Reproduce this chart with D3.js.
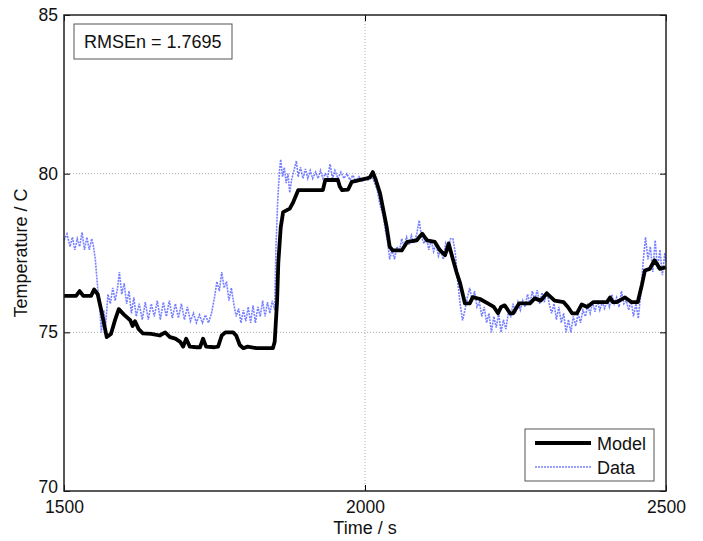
<!DOCTYPE html>
<html>
<head>
<meta charset="utf-8">
<script src="https://cdn.jsdelivr.net/npm/d3@7"></script>
<style>
  body { margin: 0; background: #fff; }
  text { font-family: Arial, "Liberation Sans", sans-serif; fill: #111; }
</style>
</head>
<body>
<div id="chart"></div>
<script>
// Model (black) trace
const modelTime = [1500, 1520, 1526, 1532, 1545, 1550, 1556, 1563, 1571, 1578, 1585, 1591, 1600, 1610, 1614, 1618,
  1624, 1631, 1645, 1659, 1668, 1676, 1685, 1693, 1698, 1703, 1709, 1720, 1726, 1731, 1736, 1750, 1756, 1762, 1768,
  1781, 1786, 1792, 1798, 1805, 1820, 1847, 1850, 1854, 1856, 1860, 1864, 1875, 1880, 1889, 1930, 1934, 1955, 1958,
  1962, 1972, 1978, 2003, 2008, 2013, 2018, 2025, 2036, 2041, 2046, 2061, 2070, 2086, 2095, 2103, 2116, 2124, 2133,
  2139, 2146, 2152, 2158, 2166, 2174, 2179, 2191, 2204, 2214, 2221, 2226, 2232, 2241, 2246, 2256, 2274, 2282, 2292,
  2302, 2315, 2330, 2337, 2344, 2352, 2360, 2369, 2379, 2402, 2407, 2412, 2418, 2432, 2443, 2453, 2460, 2465, 2473,
  2481, 2490, 2500];
const modelTemp = [76.15, 76.15, 76.3, 76.15, 76.15, 76.35, 76.2, 75.6, 74.85, 74.95, 75.4, 75.73, 75.55, 75.38, 75.2, 75.35,
  75.1, 74.97, 74.95, 74.9, 75.0, 74.85, 74.8, 74.7, 74.55, 74.8, 74.55, 74.53, 74.53, 74.8, 74.55, 74.53, 74.55, 74.9, 75.0,
  75.0, 74.9, 74.6, 74.5, 74.55, 74.5, 74.5, 74.7, 76.0, 77.2, 78.3, 78.79, 78.9, 79.07, 79.48, 79.48, 79.8, 79.8, 79.6,
  79.48, 79.5, 79.74, 79.85, 79.88, 80.05, 79.8, 79.38, 78.32, 77.7, 77.58, 77.58, 77.85, 77.9, 78.11, 77.9, 77.85, 77.6, 77.43,
  77.8, 77.3, 76.9, 76.55, 75.91, 75.91, 76.11, 76.05, 75.91, 75.8, 75.6, 75.8, 75.85, 75.6, 75.6, 75.91, 75.91, 76.07, 76.0,
  76.23, 76.0, 75.95, 75.8, 75.6, 75.6, 75.88, 75.8, 75.95, 75.95, 76.1, 75.95, 75.95, 76.1, 75.95, 75.95, 76.5, 76.95, 77.0,
  77.27, 77.0, 77.05];

const dataTime = [1500, 1505, 1510, 1514, 1518, 1522, 1526, 1530, 1534, 1538, 1542, 1546, 1549, 1552, 1556, 1559, 1562,
  1566, 1569, 1573, 1577, 1581, 1585, 1589, 1592, 1596, 1600, 1604, 1608, 1612, 1616, 1620, 1625, 1630, 1635, 1640, 1645,
  1650, 1655, 1660, 1665, 1670, 1675, 1680, 1685, 1690, 1695, 1700, 1705, 1710, 1715, 1720, 1725, 1730, 1735, 1740, 1745,
  1750, 1754, 1758, 1762, 1766, 1770, 1774, 1778, 1782, 1786, 1790, 1794, 1798, 1802, 1806, 1810, 1814, 1818, 1822, 1826,
  1830, 1834, 1838, 1842, 1846, 1850, 1852, 1855, 1858, 1860, 1863, 1866, 1869, 1872, 1875, 1878, 1882, 1886, 1889, 1893,
  1897, 1901, 1905, 1909, 1913, 1918, 1922, 1926, 1930, 1934, 1938, 1942, 1946, 1950, 1955, 1960, 1965, 1970, 1975, 1980,
  1985, 1990, 1995, 2000, 2005, 2010, 2015, 2020, 2025, 2030, 2034, 2038, 2041, 2045, 2049, 2053, 2057, 2061, 2065, 2069,
  2073, 2077, 2081, 2086, 2090, 2094, 2098, 2102, 2106, 2110, 2114, 2118, 2122, 2126, 2130, 2134, 2138, 2142, 2146, 2150,
  2154, 2158, 2162, 2166, 2170, 2174, 2178, 2182, 2186, 2190, 2194, 2198, 2202, 2206, 2210, 2214, 2218, 2222, 2226, 2230,
  2234, 2238, 2242, 2246, 2250, 2254, 2258, 2262, 2266, 2270, 2274, 2278, 2282, 2286, 2290, 2294, 2298, 2302, 2306, 2310,
  2314, 2318, 2322, 2326, 2330, 2334, 2338, 2342, 2346, 2350, 2354, 2358, 2362, 2366, 2370, 2374, 2378, 2382, 2386, 2390,
  2394, 2398, 2402, 2406, 2410, 2414, 2418, 2422, 2426, 2430, 2434, 2438, 2442, 2446, 2450, 2454, 2458, 2462, 2466, 2470,
  2474, 2478, 2482, 2486, 2490, 2494, 2498, 2500];
const dataTemp = [77.9, 78.1, 77.7, 78.0, 77.6, 77.95, 77.7, 78.15, 77.6, 78.0, 77.6, 77.95, 77.7, 77.3, 76.4, 75.9, 75.0,
  75.7, 75.2, 76.2, 75.9, 76.4, 76.0, 76.4, 76.9, 76.2, 76.55, 75.9, 76.3, 75.6, 76.1, 75.5, 75.9, 75.4, 75.95, 75.4, 75.9,
  75.5, 76.0, 75.4, 75.95, 75.5, 76.0, 75.45, 75.9, 75.45, 75.9, 75.4, 75.8, 75.35, 75.6, 75.3, 75.55, 75.3, 75.55, 75.3, 75.6,
  76.1, 76.6, 76.3, 76.9, 76.4, 76.6, 76.0, 76.4, 75.9, 75.5, 75.75, 75.3, 75.7, 75.35, 75.8, 75.3, 75.85, 75.3, 75.8, 75.5,
  76.0, 75.5, 75.95, 75.6, 76.0, 75.7, 77.6, 79.16, 80.1, 80.45, 79.9, 80.2, 79.7, 80.0, 79.4, 79.8, 80.1, 80.4, 79.9, 80.2,
  79.85, 80.15, 79.85, 80.1, 79.85, 80.05, 79.85, 80.1, 79.85, 80.0, 79.9, 80.3, 79.85, 80.1, 79.85, 80.05, 79.85, 80.0, 79.8, 79.95,
  79.75, 79.9, 79.75, 79.9, 79.8, 79.95, 79.75, 79.5, 79.0, 78.7, 78.2, 77.8, 77.3, 77.6, 77.3, 77.7, 77.55, 77.95, 77.7, 78.0,
  77.75, 78.05, 77.8, 78.1, 78.53, 78.0, 77.8, 78.0, 77.6, 77.9, 77.55, 77.8, 77.4, 77.6, 77.3, 77.8, 77.6, 77.95, 77.95, 77.5,
  76.6, 75.9, 75.38, 75.7, 76.1, 76.4, 76.0, 76.3, 75.8, 75.95, 75.5, 75.8, 75.3, 75.6, 75.0, 75.5, 75.15, 75.6, 75.0, 75.4,
  75.1, 75.6, 75.5, 75.9, 75.6, 75.95, 75.7, 76.0, 75.8, 76.2, 75.9, 76.3, 76.0, 76.33, 75.9, 76.25, 75.95, 76.3, 75.9, 75.6,
  75.9, 75.4, 75.8, 75.3, 75.6, 75.0, 75.4, 75.0, 75.5, 75.2, 75.6, 75.3, 75.7, 75.5, 75.85, 75.6, 75.95, 75.65, 76.0, 75.7,
  75.95, 75.75, 76.0, 75.8, 76.2, 75.9, 76.1, 75.8, 76.3, 75.9, 76.0, 75.7, 76.0, 75.5, 75.9, 75.44, 76.2, 77.2, 78.0, 77.3,
  77.7, 76.9, 77.9, 77.0, 77.6, 76.8, 77.5, 77.2];

const xTicks = [1500, 2000, 2500];
const yTicks = [70, 75, 80, 85];
const seriesNames = ["Model", "Data"];
const rmseLabel = "RMSEn = 1.7695";

const W = 703, H = 541;
const margin = { top: 15, right: 37, bottom: 50, left: 64 };
const width = W - margin.left - margin.right,
      height = H - margin.top - margin.bottom;

const svg = d3.select("#chart").append("svg")
    .attr("width", W)
    .attr("height", H);

const g = svg.append("g")
    .attr("transform", `translate(${margin.left},${margin.top})`);

const x = d3.scaleLinear().domain([1500, 2500]).range([0, width]);
const y = d3.scaleLinear().domain([70, 85]).range([height, 0]);

// grid (dotted, inner ticks only)
g.append("g").selectAll("line")
    .data(xTicks.slice(1, -1))
    .enter().append("line")
    .attr("x1", d => x(d)).attr("x2", d => x(d))
    .attr("y1", 0).attr("y2", height)
    .attr("stroke", "#aaa").attr("stroke-dasharray", "1,2");
g.append("g").selectAll("line")
    .data(yTicks.slice(1, -1))
    .enter().append("line")
    .attr("y1", d => y(d)).attr("y2", d => y(d))
    .attr("x1", 0).attr("x2", width)
    .attr("stroke", "#aaa").attr("stroke-dasharray", "1,2");

// lines
const model = modelTime.map((t, i) => [t, modelTemp[i]]);
const meas = dataTime.map((t, i) => [t, dataTemp[i]]);
const line = d3.line().x(d => x(d[0])).y(d => y(d[1]));

g.append("path")
    .datum(meas)
    .attr("d", line)
    .attr("fill", "none")
    .attr("stroke", "#1a2cff")
    .attr("stroke-opacity", 0.6)
    .attr("stroke-width", 1.6)
    .attr("stroke-dasharray", "2,1");

g.append("path")
    .datum(model)
    .attr("d", line)
    .attr("fill", "none")
    .attr("stroke", "#000")
    .attr("stroke-width", 3.8)
    .attr("stroke-linejoin", "round");

// axes (MATLAB style: ticks inside, box)
const tickLen = 6;
g.append("g")
    .attr("transform", `translate(0,${height})`)
    .call(d3.axisBottom(x).tickValues(xTicks).tickSize(-tickLen).tickPadding(10).tickFormat(d3.format("d")))
    .call(a => a.select(".domain").remove())
    .call(a => a.selectAll("text").attr("font-size", 17.5).attr("fill", "#111"));
g.append("g")
    .call(d3.axisLeft(y).tickValues(yTicks).tickSize(-tickLen).tickPadding(6))
    .call(a => a.select(".domain").remove())
    .call(a => a.selectAll("text").attr("font-size", 17.5).attr("fill", "#111"))
    .call(a => a.selectAll(".tick").filter(d => d === 70).select("text").attr("dy", "0.1em"));
g.append("g")
    .attr("transform", `translate(${width},0)`)
    .call(d3.axisRight(y).tickValues(yTicks).tickSize(-tickLen).tickFormat(""))
    .call(a => a.select(".domain").remove());
g.append("g")
    .call(d3.axisTop(x).tickValues(xTicks).tickSize(-tickLen).tickFormat(""))
    .call(a => a.select(".domain").remove());
g.append("rect")
    .attr("width", width).attr("height", height)
    .attr("fill", "none").attr("stroke", "#222").attr("stroke-width", 1.5);

// axis labels
svg.append("text")
    .attr("transform", `translate(21,${margin.top + height / 2}) rotate(-90)`)
    .attr("text-anchor", "middle")
    .attr("dominant-baseline", "central")
    .attr("font-size", 18)
    .text("Temperature / C");
svg.append("text")
    .attr("x", margin.left + width / 2)
    .attr("y", 534)
    .attr("text-anchor", "middle")
    .attr("font-size", 18)
    .text("Time / s");

// RMSE box
g.append("rect")
    .attr("x", 10).attr("y", 9).attr("width", 158).attr("height", 35)
    .attr("fill", "#fff").attr("stroke", "#555");
g.append("text")
    .attr("x", 20).attr("y", 33)
    .attr("font-size", 18)
    .text(rmseLabel);

// legend
const leg = g.append("g").attr("transform", `translate(${width - 141},${height - 62})`);
leg.append("rect")
    .attr("width", 129).attr("height", 52)
    .attr("fill", "#fff").attr("stroke", "#555");
seriesNames.forEach((name, i) => {
    const ly = 14 + i * 24;
    leg.append("line")
        .attr("x1", 10).attr("x2", 66).attr("y1", ly).attr("y2", ly)
        .attr("stroke", i === 0 ? "#000" : "#1a2cff")
        .attr("stroke-width", i === 0 ? 3.8 : 1.6)
        .attr("stroke-opacity", i === 0 ? 1 : 0.6)
        .attr("stroke-dasharray", i === 0 ? null : "2,1");
    leg.append("text")
        .attr("x", 72).attr("y", ly + 7)
        .attr("font-size", 18)
        .text(name);
});
</script>
</body>
</html>
